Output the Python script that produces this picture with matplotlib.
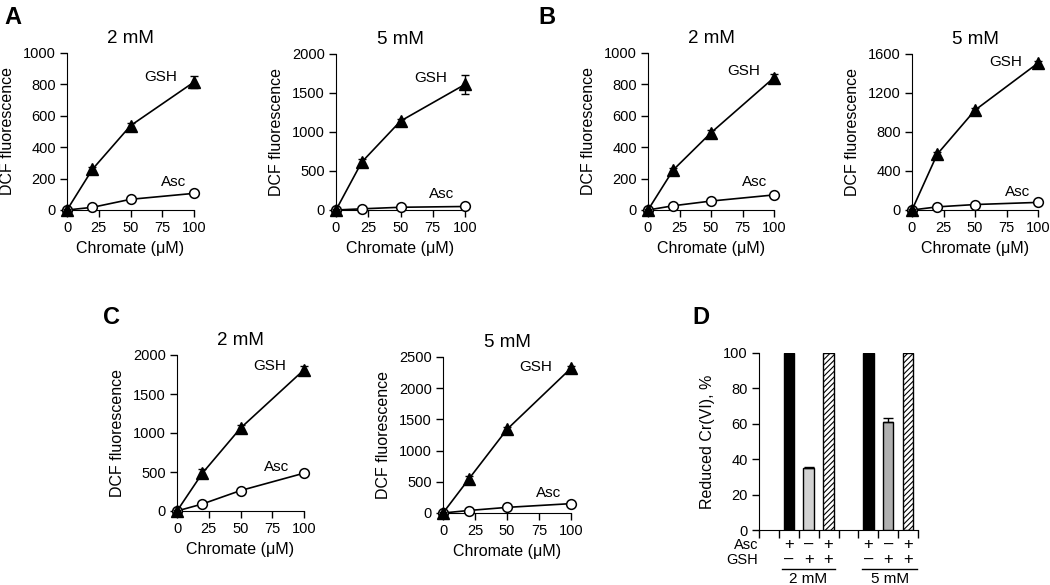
import numpy as np
import matplotlib
matplotlib.use('Agg')
import matplotlib.pyplot as plt
import matplotlib.transforms as mtransforms

plt.rcParams['font.family'] = ['Liberation Sans', 'DejaVu Sans']
plt.rcParams['hatch.linewidth'] = 0.8

# chromate concentrations (uM)
chromate = [0, 20, 50, 100]

# panel A
gsh_a2 = [0, 259, 537, 815]
gsh_a2_err = [5, 15, 20, 38]
asc_a2 = [0, 17, 68, 106]
asc_a2_err = [3, 5, 6, 5]
gsh_a5 = [0, 615, 1140, 1610]
gsh_a5_err = [10, 35, 30, 125]
asc_a5 = [0, 15, 35, 45]
asc_a5_err = [3, 5, 5, 5]

# panel B
gsh_b2 = [0, 255, 492, 843]
gsh_b2_err = [5, 15, 15, 25]
asc_b2 = [0, 27, 57, 96]
asc_b2_err = [3, 5, 5, 6]
gsh_b5 = [0, 572, 1024, 1507]
gsh_b5_err = [10, 25, 25, 25]
asc_b5 = [0, 32, 56, 78]
asc_b5_err = [3, 5, 5, 6]

# panel C
gsh_c2 = [0, 485, 1062, 1810]
gsh_c2_err = [10, 50, 45, 45]
asc_c2 = [0, 90, 262, 485]
asc_c2_err = [5, 15, 15, 30]
gsh_c5 = [0, 540, 1340, 2320]
gsh_c5_err = [10, 50, 40, 35]
asc_c5 = [0, 40, 90, 150]
asc_c5_err = [5, 5, 8, 10]

# panel D
bar_vals = [100, 35, 100, 100, 61, 100]
bar_err = [0, 0.5, 0, 0, 2.5, 0]
asc_signs = ['+', '\u2013', '+', '+', '\u2013', '+']
gsh_signs = ['\u2013', '+', '+', '\u2013', '+', '+']
groups = ['2 mM', '5 mM']

fig = plt.figure(figsize=(10.5, 5.85), dpi=100)
W, H = 1050., 585.


def px_axes(x0, x1, y0, y1):
    return fig.add_axes([x0 / W, (H - y1) / H, (x1 - x0) / W, (y1 - y0) / H])


def line_panel(ax, title, gsh, gsh_err, asc, asc_err, ymax, yticks, gsh_pos, asc_pos):
    ax.errorbar(chromate, asc, yerr=asc_err, color='black', lw=1.2, marker='o',
                ms=7, mfc='white', mec='black', mew=1.1, capsize=3, elinewidth=1,
                clip_on=False, zorder=3)
    ax.errorbar(chromate, gsh, yerr=gsh_err, color='black', lw=1.2, marker='^',
                ms=8.5, mfc='black', mec='black', capsize=3, elinewidth=1,
                clip_on=False, zorder=4)
    ax.set_xlim(0, 100)
    ax.set_ylim(0, ymax)
    ax.set_xticks([0, 25, 50, 75, 100])
    ax.set_yticks(yticks)
    for s in ['top', 'right']:
        ax.spines[s].set_visible(False)
    ax.tick_params(direction='out', length=5, width=1, labelsize=10.5, pad=3)
    ax.set_title(title, fontsize=13.5, pad=7)
    ax.set_ylabel('DCF fluorescence', fontsize=11.5, labelpad=6)
    ax.set_xlabel('Chromate (\u03bcM)', fontsize=11.5, labelpad=4)
    ax.text(gsh_pos[0], gsh_pos[1], 'GSH', transform=ax.transAxes, ha='right',
            va='center', fontsize=11)
    ax.text(asc_pos[0], asc_pos[1], 'Asc', transform=ax.transAxes, ha='right',
            va='center', fontsize=11)


ax = px_axes(67, 194, 53, 210)
line_panel(ax, '2 mM', gsh_a2, gsh_a2_err, asc_a2, asc_a2_err, 1000,
           [0, 200, 400, 600, 800, 1000], (0.87, 0.85), (0.94, 0.18))
ax = px_axes(336, 465, 54, 210)
line_panel(ax, '5 mM', gsh_a5, gsh_a5_err, asc_a5, asc_a5_err, 2000,
           [0, 500, 1000, 1500, 2000], (0.86, 0.845), (0.92, 0.10))
ax = px_axes(648, 774, 53, 210)
line_panel(ax, '2 mM', gsh_b2, gsh_b2_err, asc_b2, asc_b2_err, 1000,
           [0, 200, 400, 600, 800, 1000], (0.89, 0.885), (0.95, 0.18))
ax = px_axes(912, 1038, 54, 210)
line_panel(ax, '5 mM', gsh_b5, gsh_b5_err, asc_b5, asc_b5_err, 1600,
           [0, 400, 800, 1200, 1600], (0.875, 0.947), (0.935, 0.117))
ax = px_axes(177, 304, 355, 511)
line_panel(ax, '2 mM', gsh_c2, gsh_c2_err, asc_c2, asc_c2_err, 2000,
           [0, 500, 1000, 1500, 2000], (0.856, 0.93), (0.884, 0.284))
ax = px_axes(443, 571, 357, 513)
line_panel(ax, '5 mM', gsh_c5, gsh_c5_err, asc_c5, asc_c5_err, 2500,
           [0, 500, 1000, 1500, 2000, 2500], (0.854, 0.938), (0.927, 0.13))

# panel D bars
ax = px_axes(759, 918, 353, 530)
xpos = [1.5, 2.5, 3.5, 5.5, 6.5, 7.5]
colors = ['black', '#d2d2d2', 'white', 'black', '#b0b0b0', 'white']
hatches = [None, None, '//////', None, None, '//////']
for x, v, e, c, h in zip(xpos, bar_vals, bar_err, colors, hatches):
    ax.bar(x, v, width=0.53, color=c, edgecolor='black', linewidth=1,
           hatch=h, zorder=2)
    if e > 0:
        ax.errorbar(x, v, yerr=[[0], [e]], color='black', capsize=3.5,
                    elinewidth=1, capthick=1, zorder=3)
ax.set_xlim(0, 8)
ax.set_ylim(0, 100)
ax.set_xticks(range(9))
ax.set_xticklabels([])
ax.set_yticks([0, 20, 40, 60, 80, 100])
for s in ['top', 'right']:
    ax.spines[s].set_visible(False)
ax.tick_params(direction='out', length=5, width=1, labelsize=10.5, pad=3)
ax.tick_params(axis='x', length=6)
ax.set_ylabel('Reduced Cr(VI), %', fontsize=11.5, labelpad=6)

trans = mtransforms.blended_transform_factory(ax.transData, ax.transAxes)
ax.text(-0.05, -0.082, 'Asc', transform=trans, ha='right', va='center', fontsize=10.5)
ax.text(-0.05, -0.167, 'GSH', transform=trans, ha='right', va='center', fontsize=10.5)
for x, a, g in zip(xpos, asc_signs, gsh_signs):
    ax.text(x, -0.082, a, transform=trans, ha='center', va='center', fontsize=12)
    ax.text(x, -0.167, g, transform=trans, ha='center', va='center', fontsize=12)
for (x0, x1), lab in zip([(1.15, 3.8), (5.2, 7.95)], groups):
    ax.plot([x0, x1], [-0.218, -0.218], color='black', lw=1, transform=trans,
            clip_on=False)
    ax.text((x0 + x1) / 2, -0.275, lab, transform=trans, ha='center',
            va='center', fontsize=11)

# panel letters
for lab, x, y in [('A', 4, 18), ('B', 538, 18), ('C', 103, 318), ('D', 692, 318)]:
    fig.text(x / W, 1 - y / H, lab, fontsize=17, fontweight='bold',
             ha='left', va='center')

fig.savefig('out.png', dpi=100)
